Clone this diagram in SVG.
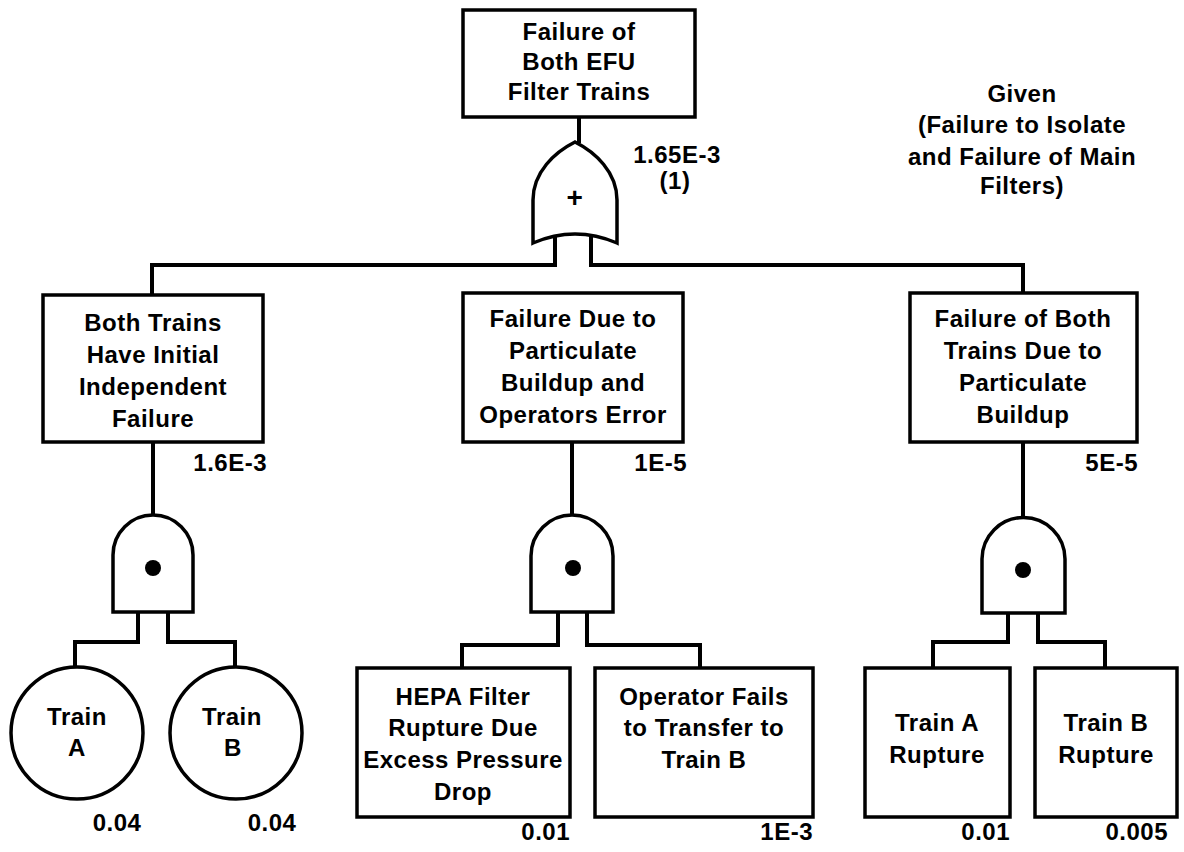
<svg xmlns="http://www.w3.org/2000/svg" width="1184" height="852" viewBox="0 0 1184 852">
<style>
.b{fill:#fff;stroke:#000;stroke-width:3.5}
.l{fill:none;stroke:#000;stroke-width:4;stroke-linejoin:miter}
text{font-family:"Liberation Sans",Arial,sans-serif;font-weight:bold;font-size:24px;fill:#000;letter-spacing:0.5px}
.c{text-anchor:middle}
.r{text-anchor:end}
</style>
<rect width="1184" height="852" fill="#fff"/>
<g id="connectors">
<path class="l" d="M579,117 V143"/>
<path class="l" d="M555,236 V265 H152 V295"/>
<path class="l" d="M591,236 V265 H1023 V293"/>
<path class="l" d="M153,442 V515"/>
<path class="l" d="M138,612 V642 H75 V667"/>
<path class="l" d="M168,612 V642 H235 V667"/>
<path class="l" d="M572,442 V515"/>
<path class="l" d="M558,612 V645 H462 V668"/>
<path class="l" d="M587,612 V645 H700 V668"/>
<path class="l" d="M1023,442 V518"/>
<path class="l" d="M1008,613 V642 H933 V668"/>
<path class="l" d="M1038,613 V642 H1105 V668"/>
</g>
<g id="top">
<rect class="b" x="463" y="10" width="232" height="107"/>
<text class="c" x="579" y="40">Failure of</text>
<text class="c" x="579" y="70">Both EFU</text>
<text class="c" x="579" y="100">Filter Trains</text>
</g>
<g id="or-gate">
<path class="b" d="M575,142 C595,152 617,172 617,200 L617,243 Q575,225 533,243 L533,200 C533,172 555,152 575,142 Z"/>
<text class="c" x="575" y="207" style="font-size:28px">+</text>
<text class="c" x="677" y="163">1.65E-3</text>
<text class="c" x="675" y="189">(1)</text>
</g>
<g id="given">
<text class="c" x="1022" y="102">Given</text>
<text class="c" x="1022" y="133">(Failure to Isolate</text>
<text class="c" x="1022" y="165">and Failure of Main</text>
<text class="c" x="1022" y="194">Filters)</text>
</g>
<g id="initial">
<rect class="b" x="43" y="295" width="220" height="147"/>
<text class="c" x="153" y="331">Both Trains</text>
<text class="c" x="153" y="363">Have Initial</text>
<text class="c" x="153" y="395">Independent</text>
<text class="c" x="153" y="427">Failure</text>
<text class="r" x="267" y="471">1.6E-3</text>
</g>
<g id="particulate-operator">
<rect class="b" x="463" y="293" width="220" height="149"/>
<text class="c" x="573" y="327">Failure Due to</text>
<text class="c" x="573" y="359">Particulate</text>
<text class="c" x="573" y="391">Buildup and</text>
<text class="c" x="573" y="423">Operators Error</text>
<text class="r" x="687" y="471">1E-5</text>
</g>
<g id="particulate-both">
<rect class="b" x="910" y="293" width="227" height="149"/>
<text class="c" x="1023" y="327">Failure of Both</text>
<text class="c" x="1023" y="359">Trains Due to</text>
<text class="c" x="1023" y="391">Particulate</text>
<text class="c" x="1023" y="423">Buildup</text>
<text class="r" x="1138" y="471">5E-5</text>
</g>
<g id="and-left">
<path class="b" d="M113,612 V555 A40,40 0 0 1 193,555 V612 Z"/>
<circle cx="153" cy="568" r="8"/>
</g>
<g id="and-mid">
<path class="b" d="M531,612 V556 A41,41 0 0 1 613,556 V612 Z"/>
<circle cx="573" cy="568" r="8"/>
</g>
<g id="and-right">
<path class="b" d="M982,613 V559 A41.5,41.5 0 0 1 1065,559 V613 Z"/>
<circle cx="1023" cy="570" r="8"/>
</g>
<g id="train-a">
<circle class="b" cx="77" cy="733" r="66"/>
<text class="c" x="77" y="725">Train</text>
<text class="c" x="77" y="756">A</text>
<text class="c" x="117" y="831">0.04</text>
</g>
<g id="train-b">
<circle class="b" cx="236" cy="733" r="66"/>
<text class="c" x="232" y="725">Train</text>
<text class="c" x="233" y="756">B</text>
<text class="c" x="272" y="831">0.04</text>
</g>
<g id="hepa">
<rect class="b" x="357" y="668" width="213" height="149"/>
<text class="c" x="463" y="705">HEPA Filter</text>
<text class="c" x="463" y="736">Rupture Due</text>
<text class="c" x="463" y="768">Excess Pressure</text>
<text class="c" x="463" y="800">Drop</text>
<text class="r" x="570" y="840">0.01</text>
</g>
<g id="operator">
<rect class="b" x="595" y="668" width="218" height="149"/>
<text class="c" x="704" y="705">Operator Fails</text>
<text class="c" x="704" y="736">to Transfer to</text>
<text class="c" x="704" y="768">Train B</text>
<text class="r" x="813" y="840">1E-3</text>
</g>
<g id="rupture-a">
<rect class="b" x="865" y="668" width="145" height="149"/>
<text class="c" x="937" y="731">Train A</text>
<text class="c" x="937" y="763">Rupture</text>
<text class="r" x="1010" y="840">0.01</text>
</g>
<g id="rupture-b">
<rect class="b" x="1035" y="668" width="142" height="149"/>
<text class="c" x="1106" y="731">Train B</text>
<text class="c" x="1106" y="763">Rupture</text>
<text class="r" x="1168" y="840">0.005</text>
</g>
</svg>
